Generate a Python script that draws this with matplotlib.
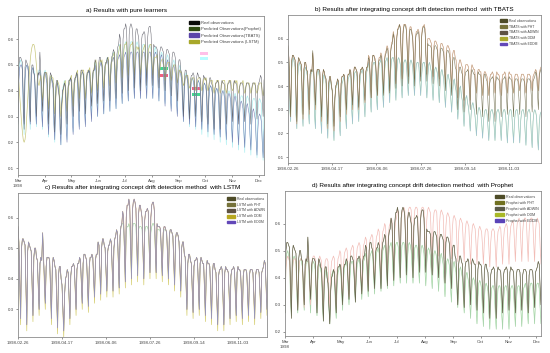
import numpy as np
import pandas as pd
import matplotlib
matplotlib.use("Agg")
import matplotlib.pyplot as plt
from matplotlib.patches import Patch, Rectangle

plt.rcParams['font.family'] = ['Liberation Sans', 'DejaVu Sans']

# daily values (x100), one row per week, weeks start on Thursday 1998-02-26
dates = pd.date_range('1998-02-26', periods=287, freq='D')

real_obs = [
    57, 52, 40, 27, 50, 53, 53,
    52, 51, 38, 25, 49, 52, 51,
    50, 49, 39, 28, 47, 50, 50,
    47, 46, 38, 30, 45, 47, 46,
    55, 47, 38, 32, 44, 47, 47,
    47, 46, 36, 27, 44, 47, 46,
    44, 43, 33, 24, 41, 44, 44,
    40, 38, 30, 23, 35, 40, 41,
    43, 42, 34, 27, 41, 44, 44,
    45, 44, 37, 30, 43, 45, 45,
    47, 46, 39, 32, 45, 48, 48,
    47, 46, 38, 31, 44, 47, 47,
    48, 47, 40, 34, 46, 48, 48,
    52, 51, 43, 35, 50, 53, 53,
    51, 50, 43, 36, 49, 51, 51,
    53, 52, 44, 36, 50, 53, 54,
    56, 55, 46, 37, 54, 57, 58,
    62, 60, 50, 39, 60, 64, 64,
    66, 64, 52, 40, 62, 65, 66,
    65, 63, 52, 41, 61, 64, 64,
    62, 60, 50, 40, 59, 62, 62,
    63, 62, 52, 42, 60, 64, 65,
    65, 62, 51, 42, 58, 57, 57,
    57, 56, 48, 41, 55, 57, 57,
    56, 55, 47, 40, 54, 56, 56,
    55, 54, 46, 38, 53, 55, 55,
    54, 52, 44, 36, 50, 52, 52,
    48, 47, 38, 30, 45, 48, 48,
    46, 45, 37, 29, 44, 46, 46,
    47, 46, 38, 30, 45, 47, 46,
    45, 45, 36, 28, 43, 46, 45,
    45, 44, 35, 27, 42, 45, 45,
    43, 42, 34, 25, 41, 43, 43,
    44, 43, 34, 25, 42, 44, 43,
    43, 42, 35, 27, 41, 43, 43,
    44, 43, 36, 28, 42, 44, 43,
    43, 42, 35, 27, 41, 43, 43,
    43, 42, 35, 28, 41, 43, 43,
    43, 42, 35, 27, 41, 43, 43,
    43, 42, 36, 29, 42, 43, 44,
    46, 45, 37, 30, 44, 46, 47,
]

# a) pure learners
prophet_a = [
    52, 51, 32, 24, 47, 51, 52,
    50, 49, 31, 23, 45, 49, 50,
    49, 48, 33, 25, 44, 48, 49,
    48, 47, 34, 26, 43, 47, 48,
    48, 47, 33, 25, 43, 47, 48,
    46, 45, 30, 22, 41, 45, 46,
    44, 43, 28, 20, 39, 43, 44,
    42, 41, 27, 19, 37, 41, 42,
    44, 43, 29, 21, 39, 43, 44,
    45, 44, 32, 24, 40, 44, 45,
    47, 46, 34, 26, 42, 46, 47,
    47, 46, 35, 27, 42, 46, 47,
    48, 47, 37, 29, 43, 47, 48,
    51, 50, 38, 30, 46, 50, 51,
    51, 50, 39, 31, 46, 50, 51,
    53, 52, 40, 32, 48, 52, 53,
    55, 54, 41, 33, 50, 54, 55,
    58, 57, 43, 35, 53, 57, 58,
    59, 58, 44, 36, 54, 58, 59,
    59, 58, 45, 37, 54, 58, 59,
    58, 57, 45, 37, 53, 57, 58,
    58, 57, 45, 37, 53, 57, 58,
    57, 56, 45, 37, 52, 56, 57,
    55, 54, 44, 36, 50, 54, 55,
    54, 53, 43, 35, 49, 53, 54,
    52, 51, 41, 33, 47, 51, 52,
    50, 49, 39, 31, 45, 49, 50,
    47, 46, 36, 28, 42, 46, 47,
    45, 44, 34, 26, 40, 44, 45,
    44, 43, 33, 25, 39, 43, 44,
    43, 42, 31, 23, 38, 42, 43,
    42, 41, 30, 22, 37, 41, 42,
    41, 40, 29, 21, 36, 40, 41,
    40, 39, 28, 20, 35, 39, 40,
    40, 39, 27, 19, 35, 39, 40,
    39, 38, 26, 18, 34, 38, 39,
    38, 37, 25, 17, 33, 37, 38,
    38, 37, 24, 16, 33, 37, 38,
    37, 36, 23, 15, 32, 36, 37,
    37, 36, 22, 14, 32, 36, 37,
    36, 35, 21, 13, 31, 35, 36,
]

tbats_a = [
    50, 48, 34, 28, 44, 49, 50,
    50, 48, 33, 27, 44, 49, 50,
    49, 47, 33, 27, 43, 48, 49,
    47, 45, 33, 27, 41, 46, 47,
    47, 45, 32, 26, 41, 46, 47,
    45, 43, 29, 23, 39, 44, 45,
    43, 41, 27, 21, 37, 42, 43,
    41, 39, 25, 19, 35, 40, 41,
    43, 41, 26, 20, 37, 42, 43,
    45, 43, 29, 23, 39, 44, 45,
    47, 45, 31, 25, 41, 46, 47,
    47, 45, 32, 26, 41, 46, 47,
    48, 46, 34, 28, 42, 47, 48,
    50, 48, 36, 30, 44, 49, 50,
    51, 49, 37, 31, 45, 50, 51,
    52, 50, 38, 32, 46, 51, 52,
    53, 51, 39, 33, 47, 52, 53,
    54, 52, 41, 35, 48, 53, 54,
    55, 53, 42, 36, 49, 54, 55,
    55, 53, 43, 37, 49, 54, 55,
    55, 53, 43, 37, 49, 54, 55,
    55, 53, 43, 37, 49, 54, 55,
    55, 53, 43, 37, 49, 54, 55,
    54, 52, 42, 36, 48, 53, 54,
    52, 50, 40, 34, 46, 51, 52,
    50, 48, 38, 32, 44, 49, 50,
    48, 46, 36, 30, 42, 47, 48,
    46, 44, 34, 28, 40, 45, 46,
    45, 43, 33, 27, 39, 44, 45,
    44, 42, 32, 26, 38, 43, 44,
    43, 41, 31, 25, 37, 42, 43,
    42, 40, 30, 24, 36, 41, 42,
    41, 39, 29, 23, 35, 40, 41,
    40, 38, 28, 22, 34, 39, 40,
    39, 37, 27, 21, 33, 38, 39,
    38, 36, 26, 20, 32, 37, 38,
    36, 34, 25, 19, 30, 35, 36,
    35, 33, 24, 18, 29, 34, 35,
    33, 31, 23, 17, 27, 32, 33,
    31, 29, 21, 15, 25, 30, 31,
    30, 28, 20, 14, 24, 29, 30,
]

lstm_a = [
    47, 48, 47, 46, 43, 38, 33,
    28, 24, 21, 20, 21, 24, 30,
    36, 42, 47, 52, 55, 57, 58,
    58, 57, 54, 50, 46, 43, 42,
    44, 46, 42, 36, 40, 45, 47,
    47, 47, 40, 33, 39, 45, 46,
    45, 45, 38, 31, 36, 42, 44,
    43, 42, 35, 30, 33, 38, 41,
    43, 44, 38, 32, 37, 42, 44,
    45, 46, 40, 34, 39, 44, 46,
    47, 48, 42, 37, 41, 46, 48,
    48, 48, 42, 37, 42, 47, 48,
    48, 49, 44, 39, 43, 48, 49,
    51, 52, 46, 40, 45, 50, 52,
    51, 52, 46, 41, 46, 50, 51,
    52, 53, 47, 42, 47, 51, 53,
    54, 55, 49, 43, 49, 53, 55,
    57, 58, 51, 45, 51, 56, 58,
    58, 59, 52, 46, 52, 57, 58,
    58, 59, 52, 46, 52, 57, 57,
    56, 57, 51, 46, 51, 55, 56,
    57, 58, 51, 46, 51, 56, 57,
    58, 58, 51, 46, 50, 53, 53,
    53, 54, 49, 45, 48, 51, 52,
    52, 52, 48, 44, 47, 50, 51,
    51, 51, 47, 44, 46, 49, 50,
    50, 50, 46, 43, 45, 48, 48,
    47, 47, 44, 42, 43, 45, 46,
    46, 46, 43, 41, 42, 44, 45,
    45, 45, 42, 40, 42, 44, 45,
    45, 45, 42, 40, 41, 44, 45,
    44, 45, 42, 40, 41, 43, 44,
    44, 44, 41, 39, 41, 43, 44,
    44, 44, 41, 39, 41, 43, 44,
    44, 44, 41, 39, 41, 43, 44,
    44, 44, 41, 40, 41, 43, 44,
    43, 44, 41, 39, 41, 43, 43,
    43, 44, 41, 39, 40, 43, 43,
    43, 43, 41, 39, 40, 42, 43,
    43, 43, 40, 39, 40, 42, 43,
    43, 43, 40, 38, 40, 42, 44,
]

# b) TBATS + drift detection
tbats_pht = [
    57, 52, 40, 27, 50, 53, 53,
    52, 51, 38, 24, 49, 52, 51,
    50, 49, 38, 26, 47, 50, 50,
    47, 46, 37, 28, 45, 47, 46,
    54, 47, 38, 30, 44, 47, 47,
    47, 46, 35, 25, 44, 47, 46,
    44, 43, 32, 22, 41, 44, 44,
    41, 38, 29, 21, 35, 40, 41,
    43, 42, 33, 25, 41, 44, 44,
    45, 44, 36, 28, 43, 45, 45,
    47, 46, 38, 30, 45, 48, 48,
    47, 46, 38, 30, 44, 47, 47,
    48, 47, 40, 33, 46, 48, 48,
    53, 52, 43, 35, 50, 53, 53,
    52, 51, 43, 36, 49, 52, 52,
    54, 53, 45, 37, 51, 54, 55,
    57, 56, 47, 38, 55, 58, 59,
    63, 61, 51, 41, 61, 64, 65,
    66, 65, 53, 43, 63, 66, 66,
    66, 64, 53, 44, 62, 65, 65,
    63, 61, 51, 43, 60, 63, 63,
    64, 63, 53, 44, 61, 65, 65,
    66, 64, 53, 45, 60, 60, 60,
    59, 58, 50, 44, 57, 59, 59,
    58, 57, 49, 43, 56, 58, 58,
    57, 56, 48, 41, 55, 57, 57,
    56, 55, 47, 39, 53, 55, 55,
    52, 51, 43, 35, 49, 51, 51,
    49, 48, 41, 34, 47, 49, 49,
    49, 48, 41, 34, 47, 49, 48,
    47, 47, 42, 37, 45, 47, 47,
    46, 46, 41, 36, 44, 46, 46,
    45, 44, 40, 36, 43, 45, 45,
    46, 45, 41, 37, 44, 46, 45,
    45, 44, 40, 36, 43, 45, 45,
    46, 45, 41, 37, 44, 46, 45,
    45, 44, 40, 37, 43, 45, 45,
    45, 44, 41, 38, 43, 45, 45,
    45, 44, 40, 37, 43, 45, 45,
    45, 44, 41, 38, 44, 45, 46,
    47, 46, 42, 38, 45, 47, 48,
]
tbats_adwin = tbats_pht  # the two curves coincide at this scale

tbats_ddm = [
    52, 50, 31, 25, 46, 51, 52,
    50, 48, 28, 22, 44, 49, 50,
    48, 46, 29, 23, 42, 47, 48,
    46, 44, 30, 24, 40, 45, 46,
    47, 45, 28, 22, 41, 46, 47,
    45, 43, 26, 20, 39, 44, 45,
    43, 41, 24, 18, 37, 42, 43,
    40, 38, 23, 17, 34, 39, 40,
    42, 40, 25, 19, 36, 41, 42,
    44, 42, 28, 22, 38, 43, 44,
    46, 44, 30, 24, 40, 45, 46,
    46, 44, 31, 25, 40, 45, 46,
    47, 45, 33, 27, 41, 46, 47,
    50, 48, 35, 29, 44, 49, 50,
    50, 48, 36, 30, 44, 49, 50,
    51, 49, 37, 31, 45, 50, 51,
    52, 50, 39, 33, 46, 51, 52,
    52, 50, 40, 34, 46, 51, 52,
    51, 49, 41, 35, 45, 50, 51,
    51, 49, 42, 36, 45, 50, 51,
    50, 48, 42, 36, 44, 49, 50,
    50, 48, 42, 36, 44, 49, 50,
    50, 48, 41, 35, 44, 49, 50,
    48, 46, 40, 34, 42, 47, 48,
    47, 45, 39, 33, 41, 46, 47,
    45, 43, 37, 31, 39, 44, 45,
    43, 41, 35, 29, 37, 42, 43,
    40, 38, 32, 26, 34, 39, 40,
    36, 34, 29, 23, 31, 35, 36,
    33, 31, 27, 21, 28, 32, 33,
    31, 29, 25, 19, 26, 30, 31,
    30, 28, 24, 18, 25, 29, 30,
    30, 28, 23, 17, 25, 29, 30,
    30, 28, 23, 17, 25, 29, 30,
    30, 28, 23, 17, 25, 29, 30,
    30, 28, 22, 16, 25, 29, 30,
    30, 28, 22, 16, 25, 29, 30,
    30, 28, 22, 16, 25, 29, 30,
    30, 28, 21, 15, 25, 29, 30,
    30, 28, 20, 14, 25, 29, 30,
    29, 27, 19, 13, 24, 28, 29,
]
tbats_eddm = tbats_ddm  # overlaps DDM

# c) LSTM + drift detection
lstm_adwin = [
    57, 52, 40, 27, 50, 53, 53,
    52, 51, 38, 25, 49, 52, 51,
    50, 49, 39, 28, 47, 50, 50,
    47, 46, 38, 30, 45, 47, 46,
    55, 47, 38, 32, 44, 47, 47,
    47, 46, 36, 27, 44, 47, 46,
    44, 43, 33, 24, 41, 44, 44,
    40, 38, 30, 23, 35, 40, 41,
    43, 42, 34, 27, 41, 44, 44,
    45, 44, 37, 30, 43, 45, 45,
    47, 46, 39, 32, 45, 48, 48,
    47, 46, 38, 31, 44, 47, 47,
    48, 47, 40, 34, 46, 48, 48,
    52, 51, 43, 35, 50, 53, 53,
    51, 50, 43, 36, 49, 51, 51,
    53, 52, 44, 36, 50, 53, 54,
    56, 55, 46, 37, 54, 57, 58,
    58, 57, 49, 39, 56, 57, 57,
    58, 57, 50, 40, 56, 58, 58,
    58, 57, 50, 41, 56, 57, 57,
    57, 56, 49, 40, 55, 57, 57,
    57, 56, 50, 42, 55, 57, 58,
    58, 57, 50, 42, 56, 56, 56,
    56, 55, 48, 41, 54, 56, 56,
    56, 55, 47, 40, 54, 56, 56,
    55, 54, 46, 38, 53, 55, 55,
    54, 52, 44, 36, 50, 52, 52,
    48, 47, 38, 30, 45, 48, 48,
    46, 45, 37, 29, 44, 46, 46,
    47, 46, 38, 30, 45, 47, 46,
    45, 45, 36, 28, 43, 46, 45,
    45, 44, 35, 27, 42, 45, 45,
    43, 42, 34, 25, 41, 43, 43,
    44, 43, 34, 25, 42, 44, 43,
    43, 42, 35, 27, 41, 43, 43,
    44, 43, 36, 28, 42, 44, 43,
    43, 42, 35, 27, 41, 43, 43,
    43, 42, 35, 28, 41, 43, 43,
    43, 42, 35, 27, 41, 43, 43,
    43, 42, 36, 29, 42, 43, 44,
    46, 45, 37, 30, 44, 46, 47,
]

lstm_ddm = [
    57, 52, 39, 25, 50, 53, 53,
    52, 51, 37, 23, 49, 52, 51,
    50, 49, 38, 26, 47, 50, 50,
    47, 46, 37, 28, 45, 47, 46,
    55, 47, 37, 30, 44, 47, 47,
    47, 46, 35, 25, 44, 47, 46,
    44, 43, 32, 22, 41, 44, 44,
    40, 38, 29, 21, 35, 40, 41,
    43, 42, 33, 25, 41, 44, 44,
    45, 44, 36, 28, 43, 45, 45,
    47, 46, 38, 30, 45, 48, 48,
    47, 46, 37, 29, 44, 47, 47,
    48, 47, 39, 32, 46, 48, 48,
    52, 51, 42, 33, 50, 53, 53,
    51, 50, 42, 34, 49, 51, 51,
    53, 52, 43, 34, 50, 53, 54,
    56, 55, 45, 35, 54, 57, 58,
    62, 60, 49, 37, 60, 64, 64,
    66, 64, 51, 38, 62, 65, 66,
    65, 63, 51, 39, 61, 64, 64,
    62, 60, 49, 38, 59, 62, 62,
    63, 62, 51, 40, 60, 64, 65,
    65, 62, 50, 40, 58, 57, 57,
    57, 56, 47, 39, 55, 57, 57,
    56, 55, 46, 38, 54, 56, 56,
    55, 54, 45, 36, 53, 55, 55,
    54, 52, 43, 34, 50, 52, 52,
    48, 47, 37, 28, 45, 48, 48,
    46, 45, 36, 27, 44, 46, 46,
    47, 46, 37, 28, 45, 47, 46,
    45, 45, 35, 26, 43, 46, 45,
    45, 44, 34, 25, 42, 45, 45,
    43, 42, 33, 23, 41, 43, 43,
    44, 43, 33, 23, 42, 44, 43,
    43, 42, 34, 25, 41, 43, 43,
    44, 43, 35, 26, 42, 44, 43,
    43, 42, 34, 25, 41, 43, 43,
    43, 42, 34, 26, 41, 43, 43,
    43, 42, 34, 25, 41, 43, 43,
    43, 42, 35, 27, 42, 43, 44,
    46, 45, 36, 28, 44, 46, 47,
]
lstm_pht = real_obs   # follow the observations
lstm_eddm = real_obs

# d) Prophet + drift detection
prophet_pht = [
    48, 47, 37, 30, 43, 47, 48,
    47, 46, 36, 29, 42, 46, 47,
    47, 46, 36, 29, 42, 46, 47,
    47, 46, 36, 29, 42, 46, 47,
    48, 47, 37, 30, 43, 47, 48,
    48, 47, 37, 30, 43, 47, 48,
    47, 46, 36, 29, 42, 46, 47,
    47, 46, 36, 29, 42, 46, 47,
    48, 47, 37, 30, 43, 47, 48,
    50, 49, 39, 32, 45, 49, 50,
    51, 50, 40, 33, 46, 50, 51,
    52, 51, 41, 34, 47, 51, 52,
    53, 52, 42, 35, 48, 52, 53,
    55, 54, 44, 37, 50, 54, 55,
    56, 55, 45, 38, 51, 55, 56,
    58, 57, 47, 40, 53, 57, 58,
    60, 59, 49, 42, 55, 59, 60,
    62, 61, 51, 44, 57, 61, 62,
    65, 64, 53, 46, 60, 64, 65,
    66, 65, 54, 47, 61, 65, 66,
    66, 65, 54, 47, 61, 65, 66,
    66, 65, 54, 47, 61, 65, 66,
    66, 65, 55, 48, 61, 65, 66,
    65, 64, 55, 48, 60, 64, 65,
    65, 64, 55, 48, 60, 64, 65,
    64, 63, 54, 47, 59, 63, 64,
    63, 62, 54, 47, 58, 62, 63,
    62, 61, 53, 46, 57, 61, 62,
    61, 60, 53, 46, 56, 60, 61,
    60, 59, 52, 45, 55, 59, 60,
    59, 58, 52, 45, 54, 58, 59,
    58, 57, 52, 45, 53, 57, 58,
    58, 57, 51, 44, 53, 57, 58,
    58, 57, 51, 44, 53, 57, 58,
    59, 58, 52, 45, 54, 58, 59,
    60, 59, 52, 45, 55, 59, 60,
    61, 60, 53, 46, 56, 60, 61,
    62, 61, 53, 46, 57, 61, 62,
    62, 61, 53, 46, 57, 61, 62,
    62, 61, 53, 46, 57, 61, 62,
    61, 60, 52, 45, 56, 60, 61,
]
prophet_adwin = real_obs  # sits on the observations

prophet_ddm = [
    50, 48, 33, 27, 44, 49, 50,
    48, 46, 32, 26, 42, 47, 48,
    47, 45, 33, 27, 41, 46, 47,
    46, 44, 34, 28, 40, 45, 46,
    46, 44, 33, 27, 40, 45, 46,
    45, 43, 32, 26, 39, 44, 45,
    43, 41, 30, 24, 37, 42, 43,
    42, 40, 29, 23, 36, 41, 42,
    43, 41, 31, 25, 37, 42, 43,
    45, 43, 34, 28, 39, 44, 45,
    46, 44, 36, 30, 40, 45, 46,
    46, 44, 37, 31, 40, 45, 46,
    47, 45, 38, 32, 41, 46, 47,
    49, 47, 39, 33, 43, 48, 49,
    50, 48, 40, 34, 44, 49, 50,
    51, 49, 41, 35, 45, 50, 51,
    52, 50, 42, 36, 46, 51, 52,
    53, 51, 43, 37, 47, 52, 53,
    53, 51, 44, 38, 47, 52, 53,
    53, 51, 44, 38, 47, 52, 53,
    52, 50, 44, 38, 46, 51, 52,
    52, 50, 44, 38, 46, 51, 52,
    51, 49, 43, 37, 45, 50, 51,
    50, 48, 42, 36, 44, 49, 50,
    49, 47, 41, 35, 43, 48, 49,
    47, 45, 39, 33, 41, 46, 47,
    46, 44, 37, 31, 40, 45, 46,
    44, 42, 35, 29, 38, 43, 44,
    42, 40, 33, 27, 36, 41, 42,
    40, 38, 31, 25, 34, 39, 40,
    39, 37, 29, 23, 33, 38, 39,
    38, 36, 28, 22, 32, 37, 38,
    37, 35, 27, 21, 31, 36, 37,
    37, 35, 27, 21, 31, 36, 37,
    37, 35, 27, 21, 31, 36, 37,
    37, 35, 27, 21, 31, 36, 37,
    37, 35, 28, 22, 31, 36, 37,
    37, 35, 28, 22, 31, 36, 37,
    38, 36, 29, 23, 32, 37, 38,
    38, 36, 29, 23, 32, 37, 38,
    38, 36, 29, 23, 32, 37, 38,
]
prophet_eddm = prophet_ddm

month_labels = ['Mar\n1998', 'Apr', 'May', 'Jun', 'Jul', 'Aug', 'Sep', 'Oct', 'Nov', 'Dec']
step_ticks = pd.date_range('1998-02-26', periods=6, freq='50D')


def y(vals):
    return np.array(vals) / 100.0


def style_axes(ax, ylim, yticks):
    ax.set_ylim(*ylim)
    ax.set_yticks(yticks)
    ax.set_yticklabels([f'{t:.1f}' for t in yticks])
    ax.tick_params(labelsize=3.2, length=1.5, width=0.4, pad=1.5, colors='#444444')
    for s in ax.spines.values():
        s.set_color('#8c8c8c')
        s.set_linewidth(0.6)


def month_axis(ax, start, end):
    ax.set_xlim(pd.Timestamp(start), pd.Timestamp(end))
    ax.set_xticks(pd.date_range('1998-03-01', '1998-12-01', freq='MS'))
    ax.set_xticklabels(month_labels)


def step_axis(ax, start, end):
    ax.set_xlim(pd.Timestamp(start), pd.Timestamp(end))
    ax.set_xticks(step_ticks)
    ax.set_xticklabels([d.strftime('%Y-%m-%d') for d in step_ticks])


def add_legend(ax, labels, colors, fs, anchor):
    handles = [Patch(facecolor=c, edgecolor=c) for c in colors]
    ax.legend(handles, labels, loc='upper right', bbox_to_anchor=anchor, frameon=False,
              fontsize=fs, handlelength=2.3, handleheight=0.9, labelspacing=0.55,
              handletextpad=0.6, borderpad=0.2, labelcolor='#444444')


fig = plt.figure(figsize=(5.5, 3.53), dpi=100)
W, H = 550, 353


def axes_px(l, t, r, b):
    return fig.add_axes([l / W, (H - b) / H, (r - l) / W, (b - t) / H])


ax_a = axes_px(18, 16, 264, 175)
ax_b = axes_px(288, 15, 541, 163)
ax_c = axes_px(18, 193, 267, 337)
ax_d = axes_px(285, 191, 541, 336)

title_fs = 4.6

# a)
ax_a.plot(dates, y(prophet_a), color='#a8eef0', lw=0.45)
ax_a.plot(dates, y(tbats_a), color='#7880b4', lw=0.4)
ax_a.plot(dates, y(lstm_a), color='#c4c270', lw=0.45)
ax_a.plot(dates, y(real_obs), color='#5c5c66', lw=0.35)
style_axes(ax_a, (0.073, 0.69), [0.1, 0.2, 0.3, 0.4, 0.5, 0.6])
month_axis(ax_a, '1998-03-01', '1998-12-07')
ax_a.set_title('a) Results with pure learners', fontsize=title_fs, x=0.44, pad=3)
add_legend(ax_a, ['Real observations', 'Predicted Observations(Prophet)',
                  'Predicted Observations(TBATS)', 'Predicted Observations (LSTM)'],
           ['#0a0a0a', '#2e4a12', '#5a44a8', '#a8a82a'], 3.0, (1.0, 0.99))
for (px, py, c) in [(200, 52, '#ffc0e8'), (200, 57, '#b8fcff'),
                    (160, 67, '#40d890'), (160, 74, '#f06080'),
                    (192, 87, '#f06080'), (192, 93, '#40d890')]:
    ax_a.add_patch(Rectangle(((px - 18) / 246, (175 - py - 3) / 159), 8 / 246, 3 / 159,
                             transform=ax_a.transAxes, color=c, lw=0))

# b)
ax_b.plot(dates, y(tbats_ddm), color='#a8dca4', lw=0.5)
ax_b.plot(dates, y(tbats_eddm), color='#9cb4e4', lw=0.25)
ax_b.plot(dates, y(tbats_pht), color='#f0b4a4', lw=0.5)
ax_b.plot(dates, y(tbats_adwin), color='#a09c70', lw=0.25)
ax_b.plot(dates, y(real_obs), color='#6a6848', lw=0.35)
style_axes(ax_b, (0.075, 0.70), [0.1, 0.2, 0.3, 0.4, 0.5, 0.6])
step_axis(ax_b, '1998-02-26', '1998-12-09')
ax_b.set_title('b) Results after integrating concept drift detection method  with TBATS',
               fontsize=title_fs, pad=3)
add_legend(ax_b, ['Real observations', 'TBATS with PHT', 'TBATS with ADWIN',
                  'TBATS with DDM', 'TBATS with EDDM'],
           ['#4e4c28', '#76723a', '#5e5242', '#aaa82c', '#6248b8'], 2.4, (1.0, 0.99))

# c)
ax_c.plot(dates, y(lstm_ddm), color='#d0c860', lw=0.45)
ax_c.plot(dates, y(lstm_adwin), color='#98cc98', lw=0.45)
ax_c.plot(dates, y(lstm_pht), color='#eab4ac', lw=0.55)
ax_c.plot(dates, y(real_obs), color='#7a7c8c', lw=0.35)
ax_c.plot(dates, y(lstm_eddm), color='#9aa2d8', lw=0.2)
style_axes(ax_c, (0.21, 0.68), [0.3, 0.4, 0.5, 0.6])
step_axis(ax_c, '1998-02-26', '1998-12-06')
ax_c.set_title('c) Results after integrating concept drift detection method  with LSTM',
               fontsize=title_fs, pad=3)
add_legend(ax_c, ['Real observations', 'LSTM with PHT', 'LSTM with ADWIN',
                  'LSTM with DDM', 'LSTM with EDDM'],
           ['#4e4c28', '#76723a', '#5e5242', '#b8a820', '#6248b8'], 2.4, (1.0, 0.99))

# d)
ax_d.plot(dates, y(prophet_ddm), color='#b0e0aa', lw=0.5)
ax_d.plot(dates, y(prophet_eddm), color='#a4ccb0', lw=0.2)
ax_d.plot(dates, y(prophet_pht), color='#f2bcb6', lw=0.5)
ax_d.plot(dates, y(prophet_adwin), color='#8c8a70', lw=0.5)
ax_d.plot(dates, y(real_obs), color='#5e5c46', lw=0.3)
style_axes(ax_d, (0.185, 0.72), [0.2, 0.3, 0.4, 0.5, 0.6])
month_axis(ax_d, '1998-03-01', '1998-12-06')
ax_d.set_title('d) Results after integrating concept drift detection method  with Prophet',
               fontsize=title_fs, pad=3)
add_legend(ax_d, ['Real observations', 'Prophet with PHT', 'Prophet with ADWIN',
                  'Prophet with DDM', 'Prophet with EDDM'],
           ['#4e4c28', '#707020', '#5a5a48', '#a8b828', '#5a44b8'], 2.6, (1.0, 0.99))

fig.savefig('out.png', dpi=100)
